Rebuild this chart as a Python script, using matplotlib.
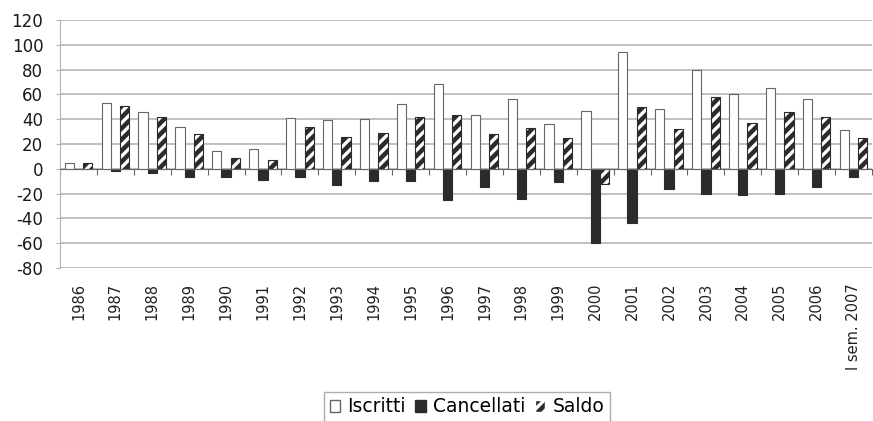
import numpy as np
import matplotlib
matplotlib.use('Agg')
import matplotlib.pyplot as plt
import matplotlib.transforms as mtransforms
from matplotlib.patches import Patch

plt.rcParams['font.family'] = ['DejaVu Sans']
plt.rcParams['axes.unicode_minus'] = False

# iscritti / cancellati / saldo per anno
anni = ['1986', '1987', '1988', '1989', '1990', '1991', '1992', '1993', '1994', '1995',
        '1996', '1997', '1998', '1999', '2000', '2001', '2002', '2003', '2004', '2005',
        '2006', 'I sem. 2007']
iscritti = [5, 53, 46, 34, 14, 16, 41, 39, 40, 52, 68, 43, 56, 36, 47, 94, 48, 80, 60, 65, 56, 31]
cancellati = [0, -2, -3, -7, -7, -9, -7, -13, -10, -10, -25, -15, -24, -11, -60, -44, -16, -20, -21, -20, -15, -7]
saldo = [5, 51, 42, 28, 9, 7, 34, 26, 29, 42, 43, 28, 33, 25, -12, 50, 32, 58, 37, 46, 42, 25]

dark = '#2b2b2b'
grid_c = '#b5b5b5'

fig = plt.figure(figsize=(8.73, 4.21), dpi=100)
ax = fig.add_axes([60 / 873, 1 - 268 / 421, 812 / 873, 248 / 421])

x = np.arange(len(anni))
w = 0.25

ax.bar(x - w, iscritti, w, color='white', edgecolor='#666666', linewidth=0.8, zorder=3)
ax.bar(x, cancellati, w, color=dark, edgecolor=dark, linewidth=0.8, zorder=3)
plt.rcParams['hatch.linewidth'] = 2.4
ax.bar(x + w, saldo, w, color=dark, edgecolor='white', hatch='///', linewidth=0, zorder=3)
ax.bar(x + w, saldo, w, fill=False, edgecolor=dark, linewidth=0.8, zorder=4)

ax.set_xlim(-0.5, len(anni) - 0.5)
ax.set_ylim(-80, 120)
ax.set_yticks(np.arange(-80, 121, 20))
ax.yaxis.grid(True, color=grid_c, linewidth=1.2, zorder=0)
ax.tick_params(axis='y', labelsize=12, length=3, color=grid_c, pad=9, labelcolor='#1a1a1a')

for s in ['top', 'right']:
    ax.spines[s].set_visible(False)
ax.spines['left'].set_color(grid_c)
ax.spines['bottom'].set_position(('data', 0))
ax.spines['bottom'].set_color('#666666')
ax.spines['bottom'].set_zorder(5)

# tick marks between categories on the zero line
ax.set_xticks(np.arange(len(anni) + 1) - 0.5)
ax.tick_params(axis='x', length=4, color='#666666', labelbottom=False)

# category labels under the plot area
trans = mtransforms.blended_transform_factory(ax.transData, ax.transAxes)
for i, lab in enumerate(anni):
    ax.text(i, -0.06, lab, rotation=90, ha='center', va='top', fontsize=10.5,
            color='#222222', transform=trans)

handles = [Patch(facecolor='white', edgecolor='#666666'),
           Patch(facecolor=dark, edgecolor=dark),
           Patch(facecolor=dark, edgecolor='white', hatch='///')]
leg = fig.legend(handles, ['Iscritti', 'Cancellati', 'Saldo'], loc='center',
                 bbox_to_anchor=(467 / 873, 1 - 407 / 421), ncol=3, fontsize=13.5,
                 handlelength=0.55, handleheight=0.55, handletextpad=0.4,
                 columnspacing=0.5, fancybox=False, borderpad=0.3)
leg.get_frame().set_edgecolor('#999999')

fig.savefig('out.png', dpi=100, facecolor='white')
